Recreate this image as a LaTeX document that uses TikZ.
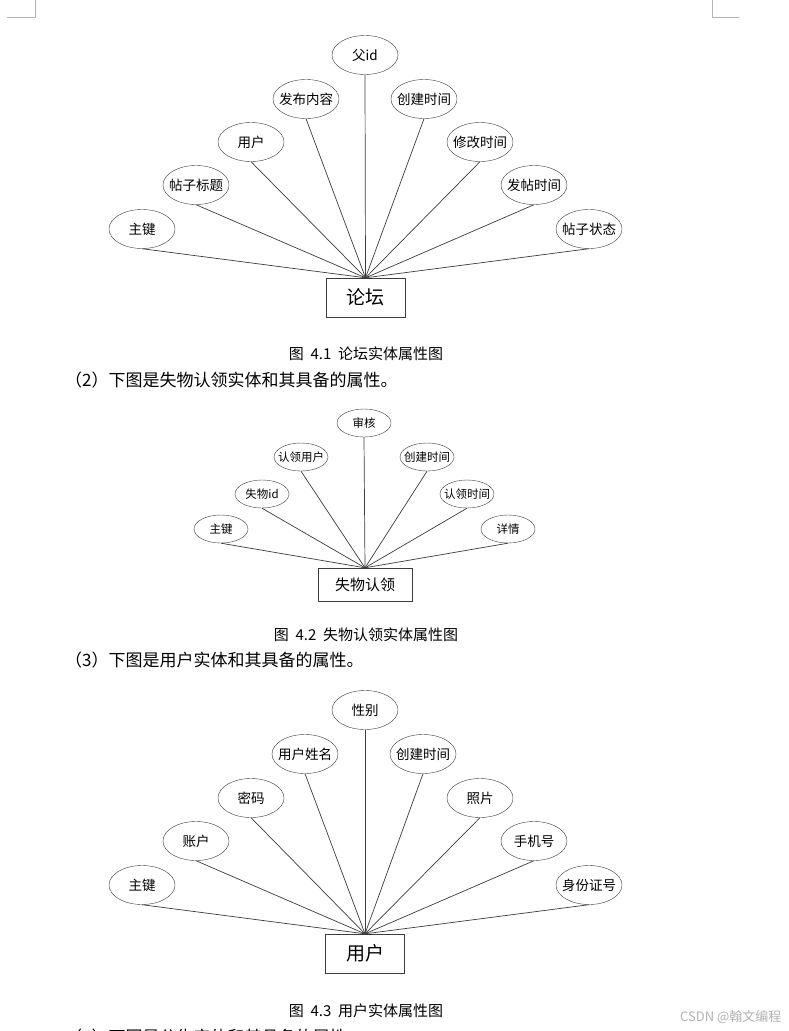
\documentclass[tikz,border=0pt]{standalone}
\usepackage{fontspec}
\setmainfont{Noto Sans CJK SC}
\usetikzlibrary{shapes.geometric}
\definecolor{erline}{HTML}{3C3C3C}
\definecolor{marks}{HTML}{B4B4B4}

\begin{document}
\begin{tikzpicture}[x=1pt, y=-1pt,
  attr/.style={ellipse, draw=erline, fill=white, inner sep=0pt,
    minimum width=66pt, minimum height=39pt, font=\fontsize{13.5pt}{15pt}\selectfont},
  attrsmall/.style={attr, minimum width=54pt, minimum height=28pt,
    font=\fontsize{11.5pt}{13pt}\selectfont},
  entity/.style={draw=erline, inner sep=0pt, minimum width=79pt, minimum height=39pt,
    font=\fontsize{19pt}{21pt}\selectfont},
  link/.style={draw=erline, line width=0.7pt},
  caption/.style={anchor=center, font=\fontsize{15pt}{17pt}\selectfont},
  bodyline/.style={anchor=west, inner sep=0pt, font=\fontsize{17pt}{19pt}\selectfont}]
  \useasboundingbox[fill=white] (0,0) rectangle (789,1031);
  \clip (0,0) rectangle (789,1031);

  % page corner marks
  \draw[marks, line width=0.8pt] (7,17) -- (35,17) -- (35,0);
  \draw[marks, line width=0.8pt] (712,0) -- (712,17) -- (739,17);

  % forum entity
  \node[entity] (forum) at (365.5,297.5) {论坛};
  \foreach \n/\t/\x/\y in {fk/主键/142/229, ftitle/帖子标题/196/185, fuser/用户/251/142,
      fbody/发布内容/306/99, fpid/父id/365/55, fctime/创建时间/424/99,
      fmtime/修改时间/480/142, fptime/发帖时间/534/185, fstate/帖子状态/589/229} {
    \node[attr] (\n) at (\x,\y) {\makebox[0pt]{\t}};
    \draw[link] (\n.south) -- (forum.north);
  }
  \node[caption] (cap1) at (366,354) {图\hspace{0.45em}4.1\hspace{0.45em}论坛实体属性图};
  \node[bodyline] (text2) at (65,380) {（2）下图是失物认领实体和其具备的属性。};

  % lost item claim entity
  \node[entity, minimum width=94pt, minimum height=33pt,
    font=\fontsize{15pt}{17pt}\selectfont] (claim) at (365,584.5) {失物认领};
  \foreach \n/\t/\x/\y in {ck/主键/221/529, citem/失物id/262/494, cuser/认领用户/301/457,
      caudit/审核/364/423, cctime/创建时间/427/457, cclaim/认领时间/467/494,
      cdetail/详情/508/529} {
    \node[attrsmall] (\n) at (\x,\y) {\makebox[0pt]{\t}};
    \draw[link] (\n.south) -- (claim.north);
  }
  \node[caption] (cap2) at (366,635) {图\hspace{0.45em}4.2\hspace{0.45em}失物认领实体属性图};
  \node[bodyline] (text3) at (65,660) {（3）下图是用户实体和其具备的属性。};

  % user entity
  \node[entity] (user) at (365,953.5) {用户};
  \foreach \n/\t/\x/\y in {uk/主键/142/885, uacc/账户/196/841, upwd/密码/251/798,
      uname/用户姓名/305/754, usex/性别/365/710, uctime/创建时间/423/754,
      uphoto/照片/480/798, uphone/手机号/534/841, uid/身份证号/589/885} {
    \node[attr] (\n) at (\x,\y) {\makebox[0pt]{\t}};
    \draw[link] (\n.south) -- (user.north);
  }
  \node[caption] (cap3) at (366,1011) {图\hspace{0.45em}4.3\hspace{0.45em}用户实体属性图};
  \node[bodyline] (text4) at (65,1037) {（4）下图是公告实体和其具备的属性。};
  \node[anchor=east, text=black!30, font=\fontsize{13pt}{15pt}\selectfont] (mark) at (785,1017) {CSDN @翰文编程};
\end{tikzpicture}
\end{document}
